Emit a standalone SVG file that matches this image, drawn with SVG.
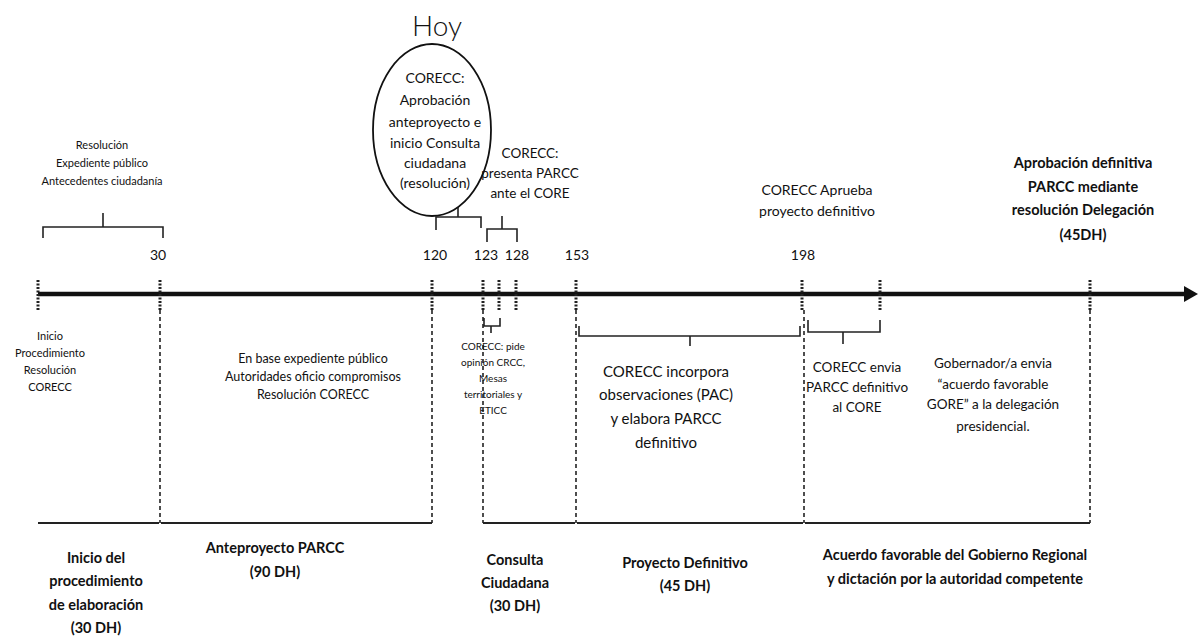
<svg xmlns="http://www.w3.org/2000/svg" width="1200" height="640" viewBox="0 0 1200 640">
<style>
text{font-family:Lato,"Liberation Sans",sans-serif;fill:#111;text-anchor:middle}
.s10{font-size:10px}
.s11{font-size:11px}
.s12{font-size:12.5px}
.s13{font-size:13.5px}
.s14{font-size:14px}
.s15{font-size:15px}
.b{font-weight:bold;font-size:14.5px}
.tick{stroke:#222;stroke-width:3;stroke-dasharray:2 1.5}
.dash{stroke:#222;stroke-width:1.6;stroke-dasharray:4 3;fill:none}
.brace{stroke:#222;stroke-width:1.6;fill:none}
.base{stroke:#222;stroke-width:2;fill:none}
</style>
<rect width="1200" height="640" fill="#fff"/>
<g id="connectors">
<line x1="38" y1="294" x2="1186" y2="294" stroke="#111" stroke-width="4.5"/>
<polygon points="1184,286 1198,294 1184,302" fill="#111"/>
<g>
<line class="tick" x1="38" y1="280" x2="38" y2="310"/>
<line class="tick" x1="160" y1="280" x2="160" y2="310"/>
<line class="tick" x1="432" y1="280" x2="432" y2="310"/>
<line class="tick" x1="483" y1="280" x2="483" y2="310"/>
<line class="tick" x1="499" y1="280" x2="499" y2="310"/>
<line class="tick" x1="516" y1="280" x2="516" y2="310"/>
<line class="tick" x1="576" y1="280" x2="576" y2="310"/>
<line class="tick" x1="802" y1="280" x2="802" y2="310"/>
<line class="tick" x1="880" y1="280" x2="880" y2="310"/>
<line class="tick" x1="1090" y1="280" x2="1090" y2="310"/>
</g>
<g>
<line class="dash" x1="160" y1="310" x2="160" y2="523"/>
<line class="dash" x1="432" y1="310" x2="432" y2="523"/>
<line class="dash" x1="483" y1="310" x2="483" y2="523"/>
<line class="dash" x1="576" y1="310" x2="576" y2="523"/>
<line class="dash" x1="804" y1="310" x2="804" y2="523"/>
<line class="dash" x1="1090" y1="310" x2="1090" y2="523"/>
</g>
<g>
<line class="base" x1="38" y1="523" x2="159" y2="523"/>
<line class="base" x1="161" y1="523" x2="432" y2="523"/>
<line class="base" x1="483" y1="523" x2="575" y2="523"/>
<line class="base" x1="577" y1="523" x2="803" y2="523"/>
<line class="base" x1="805" y1="523" x2="1090" y2="523"/>
</g>
<g>
<path class="brace" d="M43,238 V227 H163 V238 M103,227 V213"/>
<path class="brace" d="M436,230 V217 H481 V228 M458,217 V207"/>
<path class="brace" d="M487,242 V229 H517 V242 M502,229 V216"/>
<path class="brace" d="M484,318 V326 H500 V318 M491,326 V333"/>
<path class="brace" d="M579,326 V336 H800 V326 M690,336 V346"/>
<path class="brace" d="M808,320 V332 H880 V320 M843,332 V344"/>
</g>
</g>
<g id="hoy">
<text x="437" y="36" style="font-size:28px;font-weight:300">Hoy</text>
<ellipse cx="432" cy="130" rx="59" ry="86" fill="none" stroke="#111" stroke-width="1.8"/>
<text class="s14" x="435" y="83">CORECC:</text>
<text class="s14" x="435" y="105">Aprobación</text>
<text class="s14" x="435" y="127">anteproyecto e</text>
<text class="s14" x="435" y="148">inicio Consulta</text>
<text class="s14" x="435" y="168">ciudadana</text>
<text class="s14" x="435" y="188">(resolución)</text>
</g>
<g id="top-left">
<text class="s11" x="102" y="149">Resolución</text>
<text class="s11" x="102" y="167">Expediente público</text>
<text class="s11" x="102" y="185">Antecedentes ciudadanía</text>
</g>
<g id="presenta">
<text class="s13" x="530" y="158">CORECC:</text>
<text class="s13" x="530" y="178">presenta PARCC</text>
<text class="s13" x="530" y="198">ante el CORE</text>
</g>
<g id="aprueba">
<text class="s14" x="817" y="195">CORECC Aprueba</text>
<text class="s14" x="817" y="216">proyecto definitivo</text>
</g>
<g id="aprobacion">
<text class="b" x="1083" y="168">Aprobación definitiva</text>
<text class="b" x="1083" y="192">PARCC mediante</text>
<text class="b" x="1083" y="215">resolución Delegación</text>
<text class="b" x="1083" y="240">(45DH)</text>
</g>
<g id="labels">
<text class="s14" x="158" y="260">30</text>
<text class="s14" x="435" y="260">120</text>
<text class="s14" x="486" y="260">123</text>
<text class="s14" x="517" y="260">128</text>
<text class="s14" x="577" y="260">153</text>
<text class="s14" x="803" y="260">198</text>
</g>
<g id="inicio">
<text class="s11" x="50" y="340">Inicio</text>
<text class="s11" x="50" y="357">Procedimiento</text>
<text class="s11" x="50" y="374">Resolución</text>
<text class="s11" x="50" y="391">CORECC</text>
</g>
<g id="enbase">
<text class="s12" x="313" y="363">En base expediente público</text>
<text class="s12" x="313" y="381">Autoridades oficio compromisos</text>
<text class="s12" x="313" y="399">Resolución CORECC</text>
</g>
<g id="pide">
<text class="s10" x="493" y="350">CORECC: pide</text>
<text class="s10" x="493" y="366">opinión CRCC,</text>
<text class="s10" x="493" y="382">Mesas</text>
<text class="s10" x="493" y="398">territoriales y</text>
<text class="s10" x="493" y="414">ETICC</text>
</g>
<g id="incorpora">
<text class="s15" x="666" y="377">CORECC incorpora</text>
<text class="s15" x="666" y="400">observaciones (PAC)</text>
<text class="s15" x="666" y="424">y elabora PARCC</text>
<text class="s15" x="666" y="448">definitivo</text>
</g>
<g id="envia">
<text class="s13" x="857" y="372">CORECC envia</text>
<text class="s13" x="857" y="392">PARCC definitivo</text>
<text class="s13" x="857" y="412">al CORE</text>
</g>
<g id="gobernador">
<text class="s13" x="993" y="368">Gobernador/a envia</text>
<text class="s13" x="993" y="389">“acuerdo favorable</text>
<text class="s13" x="993" y="409">GORE” a la delegación</text>
<text class="s13" x="993" y="431">presidencial.</text>
</g>
<g id="fase1">
<text class="b" x="96" y="563">Inicio del</text>
<text class="b" x="96" y="586">procedimiento</text>
<text class="b" x="96" y="610">de elaboración</text>
<text class="b" x="96" y="633">(30 DH)</text>
</g>
<g id="fase2">
<text class="b" x="275" y="553">Anteproyecto PARCC</text>
<text class="b" x="275" y="577">(90 DH)</text>
</g>
<g id="fase3">
<text class="b" x="515" y="565">Consulta</text>
<text class="b" x="515" y="588">Ciudadana</text>
<text class="b" x="515" y="611">(30 DH)</text>
</g>
<g id="fase4">
<text class="b" x="685" y="568">Proyecto Definitivo</text>
<text class="b" x="685" y="591">(45 DH)</text>
</g>
<g id="fase5">
<text class="b" x="955" y="560">Acuerdo favorable del Gobierno Regional</text>
<text class="b" x="955" y="584">y dictación por la autoridad competente</text>
</g>
</svg>
